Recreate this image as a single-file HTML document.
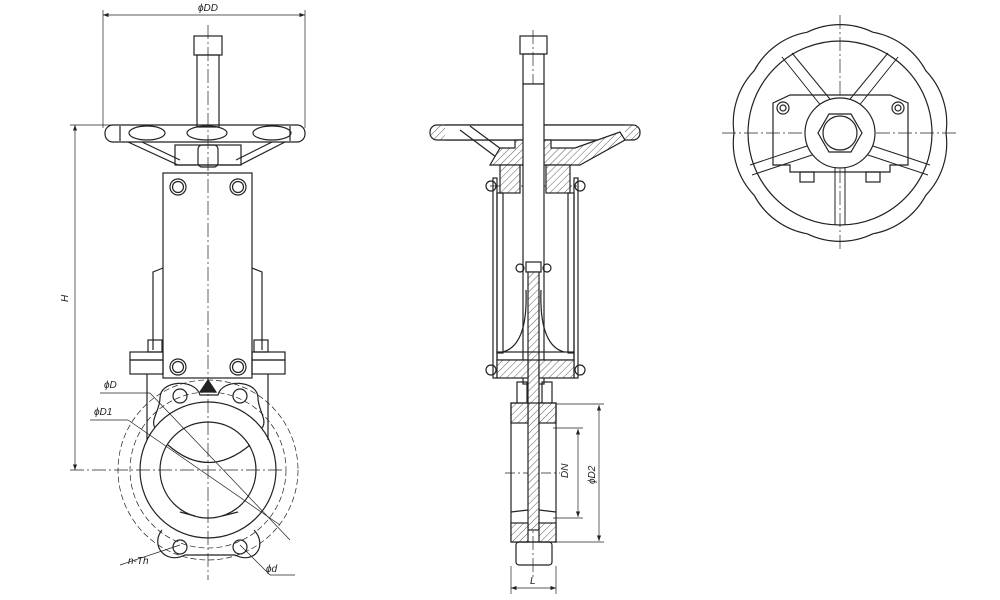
<!DOCTYPE html>
<html><head><meta charset="utf-8"><style>
html,body{margin:0;padding:0;background:#fff;}
svg{display:block}
text{font-family:"Liberation Sans",sans-serif;font-style:italic;font-size:10px;fill:#222;stroke:none}
</style></head><body>
<svg width="1000" height="600" viewBox="0 0 1000 600" xmlns="http://www.w3.org/2000/svg">
<defs>
<pattern id="h" width="5" height="5" patternUnits="userSpaceOnUse" patternTransform="rotate(45)">
<rect width="5" height="5" fill="#fff"/><line x1="0" y1="0" x2="0" y2="5" stroke="#333" stroke-width="0.8"/></pattern>
<marker id="a" markerWidth="8" markerHeight="6" refX="8" refY="3" orient="auto-start-reverse"><path d="M0,0 L8,3 L0,6z" fill="#222" stroke="none"/></marker>
</defs>
<g fill="none" stroke="#222" stroke-width="1.2">
<!-- ===== LEFT VIEW ===== -->
<g stroke-width="0.7">
<line x1="103" y1="15" x2="305" y2="15" marker-start="url(#a)" marker-end="url(#a)"/>
<line x1="103" y1="10" x2="103" y2="128"/><line x1="305" y1="10" x2="305" y2="128"/>
<line x1="75" y1="125" x2="75" y2="470" marker-start="url(#a)" marker-end="url(#a)"/>
<line x1="70" y1="125" x2="115" y2="125"/><line x1="70" y1="470" x2="285" y2="470" stroke-dasharray="14 3 2 3"/>
<line x1="208" y1="25" x2="208" y2="580" stroke-dasharray="14 3 2 3"/>
<line x1="100" y1="393" x2="150" y2="393"/><line x1="150" y1="393" x2="290" y2="540"/>
<line x1="90" y1="420" x2="128" y2="420"/><line x1="128" y1="420" x2="280" y2="525"/>
<line x1="120" y1="565" x2="180" y2="545"/><line x1="240" y1="545" x2="270" y2="575"/><line x1="270" y1="575" x2="295" y2="575"/>
<circle cx="208" cy="470" r="90" stroke-dasharray="6 3"/>
<circle cx="208" cy="470" r="78" stroke-dasharray="6 3"/>
</g>
<text x="198" y="11">ϕDD</text>
<text x="68" y="302" transform="rotate(-90 68 302)">H</text>
<text x="104" y="388">ϕD</text><text x="94" y="415">ϕD1</text>
<text x="128" y="564">n-Th</text><text x="266" y="572">ϕd</text>
<rect x="194" y="36" width="28" height="19"/>
<rect x="197" y="55" width="22" height="72"/>
<rect x="105" y="125" width="200" height="17" rx="8"/>
<ellipse cx="147" cy="133" rx="18" ry="7"/><ellipse cx="207" cy="133" rx="20" ry="7"/><ellipse cx="272" cy="133" rx="19" ry="7"/>
<line x1="120" y1="126" x2="120" y2="141"/><line x1="290" y1="126" x2="290" y2="141"/>
<path d="M128 142 L178 165 L240 165 L285 142"/>
<path d="M142 142 L180 160 M272 142 L236 160"/>
<rect x="175" y="145" width="66" height="20"/><rect x="198" y="145" width="20" height="22" rx="4"/>
<rect x="163" y="173" width="89" height="205"/>
<circle cx="178" cy="187" r="8"/><circle cx="178" cy="187" r="5.5"/><circle cx="238" cy="187" r="8"/><circle cx="238" cy="187" r="5.5"/>
<circle cx="178" cy="367" r="8"/><circle cx="178" cy="367" r="5.5"/><circle cx="238" cy="367" r="8"/><circle cx="238" cy="367" r="5.5"/>
<path d="M163 268 L153 272 L153 350 M252 268 L262 272 L262 350"/>
<rect x="130" y="352" width="33" height="8"/><rect x="130" y="360" width="33" height="14"/>
<rect x="252" y="352" width="33" height="8"/><rect x="252" y="360" width="33" height="14"/>
<rect x="148" y="340" width="14" height="12"/><rect x="254" y="340" width="14" height="12"/>
<path d="M147 374 L147 440 M268 374 L268 440"/>
<path d="M160 398 C160 380 195 378 200 395 L218 395 C222 378 258 380 258 398 C258 410 268 420 262 428 M160 398 C160 410 150 420 155 428"/>
<path d="M162 530 C150 545 165 565 185 555 L235 555 C255 565 268 545 254 530"/>
<circle cx="180" cy="396" r="7"/><circle cx="240" cy="396" r="7"/>
<circle cx="180" cy="547" r="7"/><circle cx="240" cy="547" r="7"/>
<path d="M200 392 L208 380 L216 392 Z" fill="#222"/>
<circle cx="208" cy="470" r="68"/>
<circle cx="208" cy="470" r="48"/>
<path d="M168 445 Q208 480 250 445"/>
<path d="M180 512 L195 516 M222 516 L238 512"/>
<!-- ===== MIDDLE VIEW ===== -->
<g stroke-width="0.7">
<line x1="533" y1="30" x2="533" y2="580" stroke-dasharray="14 3 2 3"/>
<line x1="490" y1="186" x2="580" y2="186" stroke-dasharray="10 3 2 3"/>
<line x1="599" y1="405" x2="599" y2="541" marker-start="url(#a)" marker-end="url(#a)"/>
<line x1="556" y1="404" x2="604" y2="404"/><line x1="556" y1="542" x2="604" y2="542"/>
<line x1="578" y1="429" x2="578" y2="517" marker-start="url(#a)" marker-end="url(#a)"/>
<line x1="553" y1="428" x2="583" y2="428"/><line x1="553" y1="518" x2="583" y2="518"/>
<line x1="511" y1="588" x2="556" y2="588" marker-start="url(#a)" marker-end="url(#a)"/>
<line x1="511" y1="566" x2="511" y2="594"/><line x1="556" y1="566" x2="556" y2="594"/>
<line x1="505" y1="473" x2="560" y2="473" stroke-dasharray="10 3 2 3"/>
</g>
<text x="568" y="478" transform="rotate(-90 568 478)">DN</text>
<text x="595" y="484" transform="rotate(-90 595 484)">ϕD2</text>
<text x="530" y="584">L</text>
<rect x="520" y="36" width="27" height="18"/><rect x="523" y="54" width="21" height="30"/>
<rect x="430" y="125" width="210" height="15" rx="7" fill="url(#h)"/>
<rect x="445" y="125" width="180" height="15" fill="#fff" stroke="none"/>
<line x1="445" y1="125" x2="625" y2="125"/><line x1="445" y1="140" x2="625" y2="140"/>
<path d="M460 130 L500 160 M470 126 L505 152" />
<path d="M500 148 L515 148 L515 140 L551 140 L551 148 L575 148 L620 132 L625 140 L580 165 L490 165 Z" fill="url(#h)"/>
<rect x="523" y="84" width="21" height="300" fill="#fff"/>
<rect x="500" y="165" width="20" height="28" fill="url(#h)"/><rect x="546" y="165" width="24" height="28" fill="url(#h)"/>
<rect x="493" y="178" width="4" height="200"/><rect x="574" y="178" width="4" height="200"/>
<rect x="497" y="193" width="6" height="160"/><rect x="568" y="193" width="6" height="160"/>
<circle cx="491" cy="186" r="5"/><circle cx="580" cy="186" r="5"/>
<circle cx="491" cy="370" r="5"/><circle cx="580" cy="370" r="5"/>
<rect x="526" y="262" width="15" height="10"/><circle cx="520" cy="268" r="4"/><circle cx="547" cy="268" r="4"/>
<rect x="528" y="272" width="11" height="258" fill="url(#h)"/>
<path d="M526 290 Q528 345 503 352 M541 290 Q539 345 564 352"/>
<rect x="497" y="352" width="77" height="8"/>
<rect x="497" y="360" width="31" height="18" fill="url(#h)"/><rect x="539" y="360" width="35" height="18" fill="url(#h)"/>
<rect x="517" y="382" width="10" height="22"/><rect x="542" y="382" width="10" height="22"/>
<rect x="511" y="403" width="17" height="20" fill="url(#h)"/><rect x="539" y="403" width="17" height="20" fill="url(#h)"/>
<rect x="511" y="403" width="45" height="139"/>
<rect x="511" y="523" width="17" height="19" fill="url(#h)"/><rect x="539" y="523" width="17" height="19" fill="url(#h)"/>
<path d="M511 512 L528 510 M539 510 L556 512"/>
<rect x="516" y="542" width="36" height="23" rx="3"/>
<!-- ===== RIGHT VIEW ===== -->
<g stroke-width="0.7">
<line x1="840" y1="15" x2="840" y2="252" stroke-dasharray="14 3 2 3"/>
<line x1="722" y1="133" x2="958" y2="133" stroke-dasharray="14 3 2 3"/>
</g>
<path d="M946 133 A75 75 0 0 1 925.8 195.3 A75 75 0 0 1 872.8 233.8 A75 75 0 0 1 807.2 233.8 A75 75 0 0 1 754.2 195.3 A75 75 0 0 1 734 133 A75 75 0 0 1 754.2 70.7 A75 75 0 0 1 807.2 32.2 A75 75 0 0 1 872.8 32.2 A75 75 0 0 1 925.8 70.7 A75 75 0 0 1 946 133 Z"/>
<circle cx="840" cy="133" r="92"/>
<path d="M773 103 L773 165 L790 165 L790 172 L890 172 L890 165 L908 165 L908 103 L890 95 L790 95 Z"/>
<circle cx="783" cy="108" r="6"/><circle cx="783" cy="108" r="3"/><circle cx="898" cy="108" r="6"/><circle cx="898" cy="108" r="3"/>
<rect x="800" y="172" width="14" height="10"/><rect x="866" y="172" width="14" height="10"/>
<g stroke-width="1">
<path d="M782 57 L826 112 M792 53 L834 104"/>
<path d="M898 57 L854 112 M888 53 L846 104"/>
<path d="M750 165 L810 145 M752 175 L812 155"/>
<path d="M930 165 L870 145 M928 175 L868 155"/>
<path d="M835 168 L835 225 M845 168 L845 225"/>
</g>
<circle cx="840" cy="133" r="35" fill="#fff"/>
<polygon points="862,133 851,152 829,152 818,133 829,114 851,114" fill="#fff"/>
<circle cx="840" cy="133" r="17"/>
</g>
</svg>
</body></html>
